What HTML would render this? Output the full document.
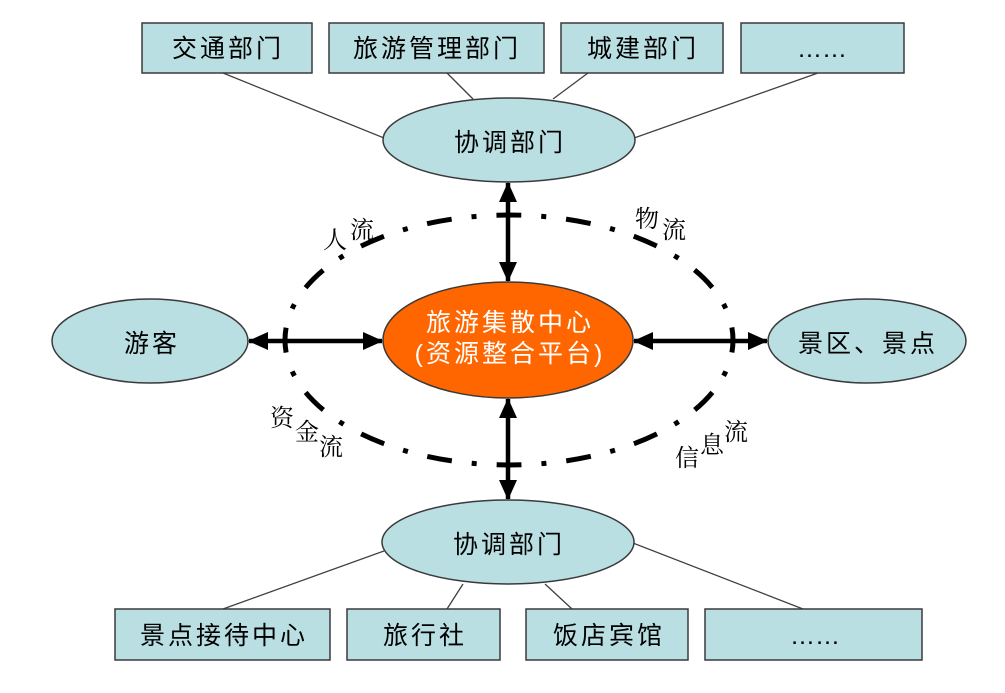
<!DOCTYPE html>
<html>
<head>
<meta charset="utf-8">
<style>
html,body{margin:0;padding:0;background:#fff;}
svg{display:block;}
.sans{font-family:"Liberation Sans","Noto Sans CJK SC",sans-serif;}
.serif{font-family:"Liberation Serif","Noto Serif CJK SC",serif;}
</style>
</head>
<body>
<svg width="1005" height="693" viewBox="0 0 1005 693" xmlns="http://www.w3.org/2000/svg">
  <defs>
    <marker id="ah" markerWidth="20" markerHeight="18" refX="19" refY="9" orient="auto-start-reverse" markerUnits="userSpaceOnUse">
      <path d="M0,0 L20,9 L0,18 Z" fill="#000"/>
    </marker>
  </defs>
  <rect width="1005" height="693" fill="#fff"/>

  <!-- connector lines top -->
  <g stroke="#404040" stroke-width="1.3" fill="none">
    <line x1="223" y1="73" x2="384" y2="138"/>
    <line x1="447" y1="73" x2="473" y2="99"/>
    <line x1="588" y1="73" x2="553" y2="99"/>
    <line x1="818" y1="73" x2="634" y2="138"/>
    <!-- bottom -->
    <line x1="223" y1="609" x2="384" y2="551"/>
    <line x1="447" y1="609" x2="463" y2="584"/>
    <line x1="572" y1="609" x2="545" y2="584"/>
    <line x1="803" y1="609" x2="633" y2="543"/>
  </g>

  <!-- top boxes -->
  <g fill="#b9dfe3" stroke="#3a3a3a" stroke-width="1.5">
    <rect x="142" y="23" width="170" height="50"/>
    <rect x="329" y="23" width="215" height="50"/>
    <rect x="561" y="23" width="162" height="50"/>
    <rect x="741" y="23" width="163" height="50"/>
    <!-- bottom boxes -->
    <rect x="115" y="609" width="215" height="51"/>
    <rect x="347" y="609" width="153" height="51"/>
    <rect x="526" y="609" width="162" height="51"/>
    <rect x="705" y="609" width="217" height="51"/>
  </g>

  <!-- ellipses -->
  <g stroke="#3a3a3a" stroke-width="1.5">
    <ellipse cx="509" cy="140" rx="126" ry="42" fill="#b9dfe3"/>
    <ellipse cx="508" cy="542" rx="126" ry="42" fill="#b9dfe3"/>
    <ellipse cx="150" cy="341" rx="98" ry="42" fill="#b9dfe3"/>
    <ellipse cx="867" cy="341" rx="99" ry="42" fill="#b9dfe3"/>
    <ellipse cx="508" cy="340" rx="125" ry="58" fill="#ff6600"/>
  </g>

  <!-- dash-dot ellipse -->
  <ellipse cx="509" cy="340" rx="224" ry="125" fill="none" stroke="#000" stroke-width="5"
    pathLength="1120" stroke-dasharray="25 20 5 20" stroke-dashoffset="12.5"/>

  <!-- arrows -->
  <g stroke="#000" stroke-width="4.5" fill="none">
    <line x1="508" y1="183" x2="508" y2="281" marker-start="url(#ah)" marker-end="url(#ah)"/>
    <line x1="508" y1="399" x2="508" y2="499" marker-start="url(#ah)" marker-end="url(#ah)"/>
    <line x1="249" y1="341" x2="382" y2="341" marker-start="url(#ah)" marker-end="url(#ah)"/>
    <line x1="634" y1="341" x2="767" y2="341" marker-start="url(#ah)" marker-end="url(#ah)"/>
  </g>

  <!-- box texts -->
  <g class="sans" font-size="25" fill="#000" text-anchor="middle" letter-spacing="3">
    <text x="228" y="57">交通部门</text>
    <text x="437" y="57">旅游管理部门</text>
    <text x="643" y="57">城建部门</text>
    <text x="822" y="57" letter-spacing="0">……</text>

    <text x="224" y="644">景点接待中心</text>
    <text x="425" y="644">旅行社</text>
    <text x="609" y="644">饭店宾馆</text>
    <text x="815" y="644" letter-spacing="0">……</text>

    <text x="510" y="151">协调部门</text>
    <text x="509" y="553">协调部门</text>
    <text x="152" y="352">游客</text>
    <text x="868" y="352">景区、景点</text>
  </g>
  <g class="sans" font-size="25" fill="#fff" text-anchor="middle" letter-spacing="3">
    <text x="510" y="331">旅游集散中心</text>
    <text x="510" y="362">(资源整合平台)</text>
  </g>

  <!-- flow labels -->
  <g class="serif" font-size="24" fill="#000" text-anchor="middle">
    <text x="335" y="248">人</text>
    <text x="362" y="238">流</text>
    <text x="647" y="227">物</text>
    <text x="674" y="238">流</text>
    <text x="282" y="426">资</text>
    <text x="307" y="440">金</text>
    <text x="331" y="455">流</text>
    <text x="687" y="466">信</text>
    <text x="712" y="453">息</text>
    <text x="736" y="440">流</text>
  </g>
</svg>
</body>
</html>
